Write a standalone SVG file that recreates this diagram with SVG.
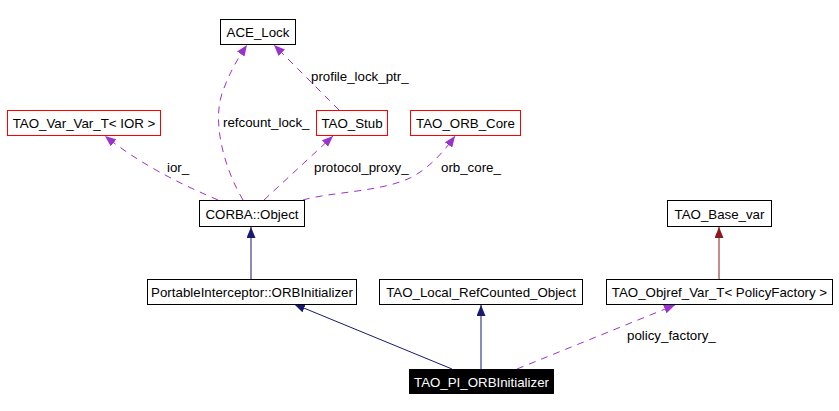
<svg xmlns="http://www.w3.org/2000/svg" width="839" height="411" viewBox="0 0 839 411">
<style>
text{font-family:"Liberation Sans",Arial,sans-serif;font-size:13.3px;fill:#000}
.n rect{fill:#fff;stroke:#000;stroke-width:1}
.r rect{stroke:#f00}
.c text{text-anchor:middle}
.e{fill:none;stroke-width:1}
.inh{stroke:#191970}
.tpl{stroke:#8b1a1a}
.use{stroke:#9a32cd;stroke-dasharray:7,6}
</style>
<defs>
<marker id="ab" viewBox="0 0 10 10" refX="10" refY="5" markerWidth="11" markerHeight="9" markerUnits="userSpaceOnUse" orient="auto" preserveAspectRatio="none"><path d="M0,0 L10,5 L0,10 z" fill="#191970"/></marker>
<marker id="ar" viewBox="0 0 10 10" refX="10" refY="5" markerWidth="11" markerHeight="9" markerUnits="userSpaceOnUse" orient="auto" preserveAspectRatio="none"><path d="M0,0 L10,5 L0,10 z" fill="#8b1a1a"/></marker>
<marker id="ap" viewBox="0 0 10 10" refX="10" refY="5" markerWidth="11" markerHeight="9" markerUnits="userSpaceOnUse" orient="auto" preserveAspectRatio="none"><path d="M0,0 L10,5 L0,10 z" fill="#9a32cd"/></marker>
</defs>
<rect width="839" height="411" fill="#fff"/>
<g id="connectors">
<path class="e inh" d="M251,279 V227" marker-end="url(#ab)"/>
<path class="e inh" d="M452,369 L294,304" marker-end="url(#ab)"/>
<path class="e inh" d="M481,369 V305" marker-end="url(#ab)"/>
<path class="e tpl" d="M719,279 V227" marker-end="url(#ar)"/>
<path class="e use" d="M517,369 L675,305" marker-end="url(#ap)"/>
<path class="e use" d="M218,200 C190,188 145,168 105,136" marker-end="url(#ap)"/>
<path class="e use" d="M243,200 C225,170 210,120 224,88 C230,72 238,58 247,45" marker-end="url(#ap)"/>
<path class="e use" d="M339,110 L274,45" marker-end="url(#ap)"/>
<path class="e use" d="M264,200 L333,136" marker-end="url(#ap)"/>
<path class="e use" d="M303,200 C330,192 380,192 410,178 C430,168 445,150 455,136" marker-end="url(#ap)"/>
<text x="311" y="81">profile_lock_ptr_</text>
<text x="223" y="127">refcount_lock_</text>
<text x="167" y="172">ior_</text>
<text x="314" y="172">protocol_proxy_</text>
<text x="441" y="172">orb_core_</text>
<text x="627" y="340">policy_factory_</text>
</g>
<g id="ACE_Lock" class="n c"><rect x="220.5" y="19.5" width="75" height="25"/><text x="258" y="37">ACE_Lock</text></g>
<g id="TAO_Var_Var_T_IOR" class="n r c"><rect x="7.5" y="110.5" width="153" height="25"/><text x="84" y="128">TAO_Var_Var_T&lt; IOR &gt;</text></g>
<g id="TAO_Stub" class="n r c"><rect x="316.5" y="110.5" width="71" height="25"/><text x="352" y="128">TAO_Stub</text></g>
<g id="TAO_ORB_Core" class="n r c"><rect x="410.5" y="110.5" width="110" height="25"/><text x="465.5" y="128">TAO_ORB_Core</text></g>
<g id="CORBA_Object" class="n c"><rect x="199.5" y="200.5" width="105" height="26"/><text x="252" y="219">CORBA::Object</text></g>
<g id="TAO_Base_var" class="n c"><rect x="667.5" y="200.5" width="104" height="26"/><text x="719.5" y="219">TAO_Base_var</text></g>
<g id="PI_ORBInitializer" class="n c"><rect x="147.5" y="279.5" width="209" height="25"/><text x="252" y="297">PortableInterceptor::ORBInitializer</text></g>
<g id="TAO_Local_RefCounted_Object" class="n c"><rect x="379.5" y="279.5" width="203" height="25"/><text x="481" y="297">TAO_Local_RefCounted_Object</text></g>
<g id="TAO_Objref_Var_T" class="n c"><rect x="606.5" y="279.5" width="226" height="25"/><text x="719.5" y="297">TAO_Objref_Var_T&lt; PolicyFactory &gt;</text></g>
<g id="TAO_PI_ORBInitializer" class="c"><rect x="409" y="369" width="145" height="25" fill="#000"/><text x="481.5" y="387" style="fill:#fff">TAO_PI_ORBInitializer</text></g>
</svg>
